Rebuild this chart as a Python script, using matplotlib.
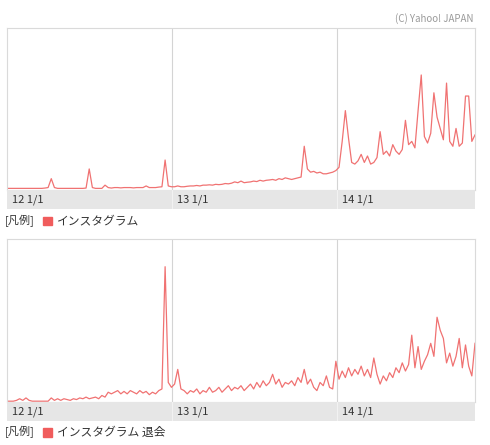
import matplotlib.pyplot as plt
import pandas as pd

plt.rcParams['font.family'] = ['Noto Sans CJK JP', 'DejaVu Sans']

# weekly search index, 2012-01-01 onward (0 = bottom, 100 = top of the plot)
insta = [1, 1, 1, 1, 1, 1, 1, 1, 1, 1, 1, 1, 1.2, 1.5,
         7,
         1.5, 1, 1, 1, 1, 1, 1, 1, 1, 1, 1.2,
         13,
         1.5, 1, 1, 1, 3, 1.5, 1.2, 1.5, 1.5, 1.3, 1.5, 1.5, 1.5, 1.3, 1.5, 1.5,
         1.5, 2.5, 1.5, 1.5, 1.5, 1.8, 2,
         18.5,
         2.5, 2, 2, 2.5, 2, 2, 2.3, 2.5, 2.5, 2.8, 2.5, 3, 3, 3.2, 3, 3.5, 3.3,
         3.5, 4, 3.8, 4.2, 5, 4.5, 5.5, 4.5, 4.8, 5, 5.5, 5.2, 6, 5.5, 6, 6.2,
         6.5, 6, 7, 6.5, 7.5, 7, 6.5, 7, 7.5, 8,
         27,
         13, 11, 11.5, 10.5, 11, 10, 10, 10.5, 11,
         12, 14, 30, 49, 32, 17, 16, 18, 22, 17, 21, 16, 17, 20, 36, 22, 24, 21,
         28, 24, 22, 25, 43, 28, 30, 26, 49, 71, 33, 29, 35, 60, 45, 38, 31, 66,
         30, 27, 38, 27, 29, 58, 58, 30, 34]

taikai = [0.5, 0.5, 0.5, 1, 2, 1, 2.5, 1, 0.5, 0.5, 0.5, 0.5, 0.5, 0.5, 2.5, 1,
          2, 1, 2, 1.5, 1, 2, 1.5, 2.5, 2, 3, 2, 2.5, 3, 2,
          4, 3, 6, 5, 6, 7, 5, 6.5, 5, 7, 6, 5, 7, 5.5, 6.5, 4.5, 6, 5, 7, 8,
          83,
          12, 9, 11, 20, 8, 7,
          5, 7, 6, 8, 5, 7, 6, 9, 6, 7, 9, 6, 8, 10, 7, 9, 8, 10, 7, 9, 11, 8,
          12, 9, 13, 10, 12, 17, 11, 14, 9, 12, 11, 13, 10, 15, 12, 20, 11, 14,
          9, 7, 12, 10, 16, 9, 8,
          25, 14, 19, 15, 21, 16, 20, 17, 22, 16, 20, 15, 27, 17, 11, 16, 13,
          18, 15, 21, 18, 24, 19, 23, 41, 21, 34, 20, 25, 29, 36, 28, 52, 44,
          39, 24, 30, 22, 28, 39, 21, 35, 22, 16, 36]

series = [insta, taikai]
legend_names = ['インスタグラム', 'インスタグラム 退会']
year_ticks = ['2012-01-01', '2013-01-01', '2014-01-01']
year_labels = ['12 1/1', '13 1/1', '14 1/1']

line_color = '#f07272'
W, H = 490, 445

fig = plt.figure(figsize=(4.9, 4.45), dpi=100)

# (plot top, plot bottom, band bottom, legend y) in pixels from the top
panels = [(28, 190, 209, 221), (239, 402, 421, 432)]

for vals, name, (top, bot, band_bot, leg_y) in zip(series, legend_names, panels):
    dates = pd.date_range('2012-01-01', periods=len(vals), freq='7D')
    xmin, xmax = pd.Timestamp('2012-01-01'), dates[-1]

    ax = fig.add_axes([7 / W, (H - bot) / H, 468 / W, (bot - top) / H])
    ax.plot(dates, vals, color=line_color, lw=0.9)
    for t in year_ticks[1:]:
        ax.axvline(pd.Timestamp(t), color='#d4d4d4', lw=0.8, zorder=0)
    ax.set_xlim(xmin, xmax)
    ax.set_ylim(0, 100)
    ax.set_xticks([])
    ax.set_yticks([])
    for s in ax.spines.values():
        s.set_color('#dadada')
        s.set_linewidth(0.8)

    band = fig.add_axes([7 / W, (H - band_bot) / H, 468 / W, (band_bot - bot) / H])
    band.set_facecolor('#e6e6e6')
    band.set_xlim(xmin, xmax)
    band.set_ylim(0, 1)
    band.set_xticks([])
    band.set_yticks([])
    for s in band.spines.values():
        s.set_visible(False)
    for t, lab in zip(year_ticks, year_labels):
        if t != year_ticks[0]:
            band.axvline(pd.Timestamp(t), color='#f2f2f2', lw=0.8)
        band.text(pd.Timestamp(t) + pd.Timedelta(days=11), 0.5, lab,
                  fontsize=8, color='#333333', va='center', ha='left')

    fy = (H - leg_y) / H
    fig.text(5 / W, fy, '[凡例]', fontsize=8, color='#333333', va='center')
    fig.patches.append(plt.Rectangle((43 / W, fy - 4.5 / H), 9 / W, 9 / H,
                                     transform=fig.transFigure,
                                     color='#f05c5c', figure=fig))
    fig.text(57 / W, fy, name, fontsize=8.5, color='#333333', va='center')

fig.text(473 / W, (H - 19) / H, '(C) Yahoo! JAPAN', fontsize=7,
         color='#9a9a9a', ha='right', va='center')

fig.savefig('out.png', dpi=100, facecolor='white')
